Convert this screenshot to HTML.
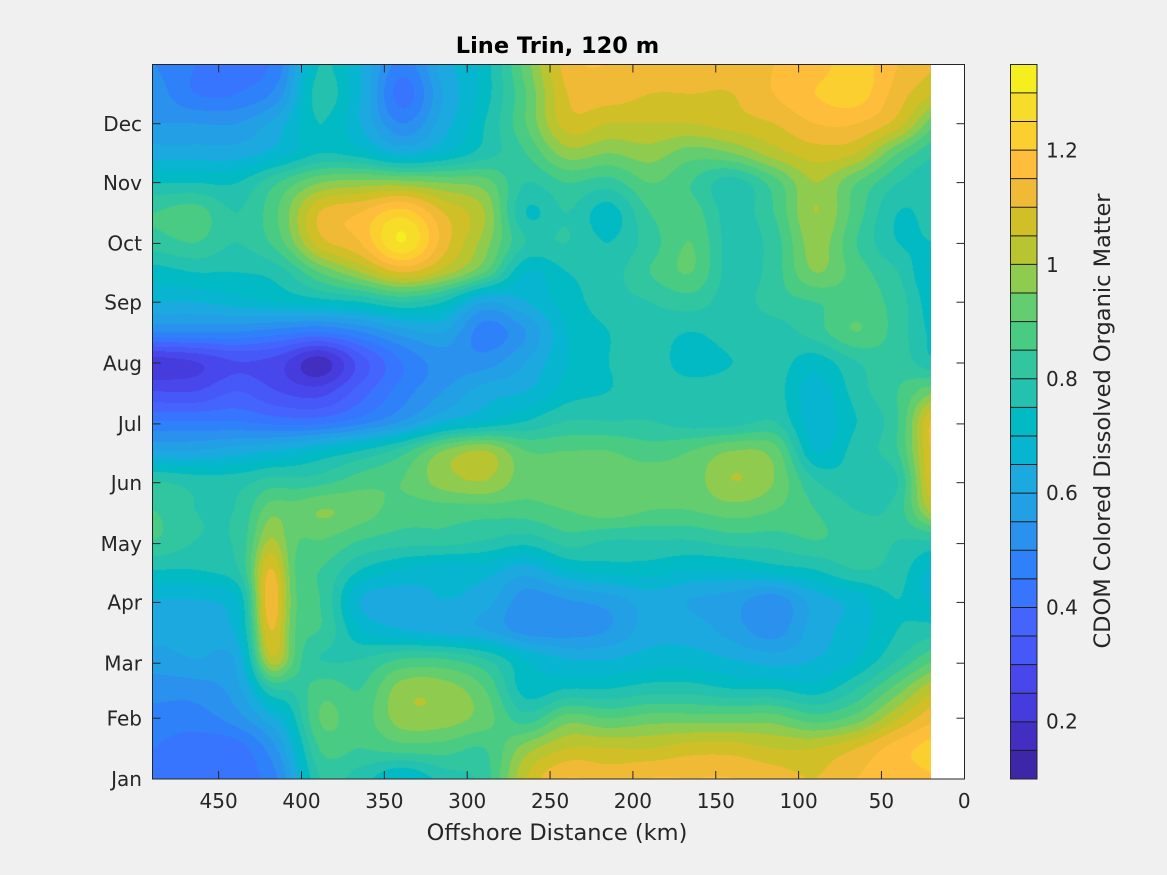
<!DOCTYPE html>
<html><head><meta charset="utf-8">
<style>
html,body{margin:0;padding:0;background:#f0f0f0;width:1167px;height:875px;overflow:hidden;}
#cv{position:absolute;left:152px;top:64px;}
#ov{position:absolute;left:0;top:0;}
text{font-family:"DejaVu Sans","Liberation Sans",sans-serif;}
</style></head>
<body>
<canvas id="cv" width="779" height="715"></canvas>
<svg id="ov" width="1167" height="875" xmlns="http://www.w3.org/2000/svg">
<rect x="931" y="64" width="34" height="715" fill="#ffffff"/>
<g id="cb"></g>
<rect x="152.5" y="64.5" width="812" height="714.5" fill="none" stroke="#262626" stroke-width="1"/>
<g id="ticks" stroke="#262626" stroke-width="1"></g>
<g fill="#262626" font-size="20" text-anchor="end">
<text x="142" y="786">Jan</text>
<text x="142" y="725.5">Feb</text>
<text x="142" y="670.5">Mar</text>
<text x="142" y="609.5">Apr</text>
<text x="142" y="551">May</text>
<text x="142" y="490">Jun</text>
<text x="142" y="431">Jul</text>
<text x="142" y="370.5">Aug</text>
<text x="142" y="309.5">Sep</text>
<text x="142" y="250.5">Oct</text>
<text x="142" y="190">Nov</text>
<text x="142" y="131">Dec</text>
</g>
<g fill="#262626" font-size="20" text-anchor="middle">
<text x="218.6" y="808">450</text>
<text x="301.5" y="808">400</text>
<text x="384.4" y="808">350</text>
<text x="467.2" y="808">300</text>
<text x="550.1" y="808">250</text>
<text x="632.9" y="808">200</text>
<text x="715.8" y="808">150</text>
<text x="798.6" y="808">100</text>
<text x="881.4" y="808">50</text>
<text x="964.3" y="808">0</text>
</g>
<g fill="#262626" font-size="20" text-anchor="start">
<text x="1046" y="157.5">1.2</text>
<text x="1046" y="271.8">1</text>
<text x="1046" y="386">0.8</text>
<text x="1046" y="500.2">0.6</text>
<text x="1046" y="614.5">0.4</text>
<text x="1046" y="728.5">0.2</text>
</g>
<text x="557" y="840" font-size="22.5" fill="#262626" text-anchor="middle">Offshore Distance (km)</text>
<text x="557.5" y="53" font-size="22.5" font-weight="bold" fill="#000" text-anchor="middle">Line Trin, 120 m</text>
<text transform="translate(1110,421) rotate(-90)" x="0" y="0" font-size="22.5" fill="#262626" text-anchor="middle">CDOM Colored Dissolved Organic Matter</text>
</svg>
<script>
(function(){
var C=[[62,38,168],[66,46,192],[70,60,222],[71,71,235],[71,88,248],[69,99,253],[56,117,254],[47,129,250],[43,145,239],[35,160,229],[28,169,223],[8,181,208],[2,186,195],[36,193,174],[49,198,159],[74,203,132],[100,205,111],[143,203,78],[185,196,49],[209,191,39],[240,186,54],[254,190,60],[252,207,48],[247,220,42],[246,239,32]];
var G=[
[8,7,6.5,7.5,13,11,7.5,10.5,12.5,16.5,20.5,21,20.5,20.5,20.5,21,21.5,22.5,21,20],
[8.5,7,7,8.5,13.5,11,6.5,10,12.5,16,20,20.5,20,20,20,21,22,22.5,20.5,19],
[9,9,9,10.5,13,11,8,10.5,13,16,19.5,19,19,19,19.5,20,21,21,19.5,16],
[10.5,10.5,10.5,11.5,13,12.5,11,12,13.5,15,17.5,17,17.5,16.5,17,18.5,19.5,19,16,14],
[13,13,13,15,17,17.5,17.5,17,16.5,14,15,14.5,16,15,13.5,15.5,18,16,14,13],
[15,15.5,14,16,20,21,22.5,20,18,13,14,12.5,15,15.5,13.5,15,18,15.5,13,13.5],
[14.5,15,14,15.5,19.5,21,24,20.5,17.5,14,14,13,14.5,16,13.5,14.5,17.5,15,13,13],
[12.5,13,13,13.5,16,18,20,18.5,16,12,13,13.5,15,16,13.5,14.5,17,15.5,14,11.5],
[11,11,11.5,12,12.5,13,14,13,10,11,12.5,13.5,14,14.5,13.5,14.5,15,15.5,14.5,12],
[8,8,8,7.5,7,8,9.5,10,7.5,9,12,13,13.5,13,13.5,13.5,14.5,16,14.5,12.5],
[2.5,3,4,3.5,1.5,4.5,7,8.5,8.5,10,12,13,13.5,12.5,13,13.5,12.5,14,14.5,13],
[4,4,5,4,3.5,5.5,7.5,9,10.5,11,12.5,13,13.5,13.5,13.5,13.5,11.5,13.5,15,17],
[7,7,7,6.5,6.5,7.5,9,11,12,13,14,14,14,13.5,13.5,14,11.5,13,15,21],
[10,10,10.5,11,12,13,14.5,17,18,16,16,16,15.5,16,17,16.5,12,13.5,15,21],
[14,13.5,13.5,14,14.5,15.5,16,17.5,18,16.5,17,16.5,16.5,16.5,18,17,14,13.5,14,21],
[15,14,14,15.5,17,16.5,15.5,15.5,15.5,15.5,16,16.5,16,16,16.5,16,15,14,14.5,19],
[15,14,14,15,16,15,14.5,14.5,14,13.5,14.5,14,14,14,14.5,14.5,15,14.5,14,14],
[13,13,13.5,14.5,15,13,12,11.5,11.5,10.5,12,12.5,12.5,12,12,12.5,13,14,13.5,11.5],
[11,11,11.5,14,15,11,10.5,11,10.5,8.5,9,9.5,10.5,10,9.5,8.5,10.5,11.5,13,11.5],
[10.5,10.5,11,14,15,12,11,10.5,10,8.5,8.5,9,10.5,10.5,9.5,8.5,10.5,11.5,13,13.5],
[9.5,10,10,15,14,14,15,15,14,12,11,11,11.5,11.5,11,10.5,11,12,14,16],
[8.5,8.5,9.5,12.5,15.5,15,17.5,17.5,16,12.5,13,13,13.5,13.5,13,13,12.5,14,16.5,19],
[7.5,7.5,8.5,10.5,16,15.5,17.5,17.5,16.5,14.5,16.5,16,16.5,16.5,16.5,16.5,15.5,16.5,19,21],
[7,6.5,6.5,9,15,15,15.5,15.5,15,17.5,19,19,19,19.5,19.5,19,19,20,21.5,22.5],
[7,6.5,6.5,8,14,13.5,12,13.5,14.5,19,21,20.5,21,21,21,20.5,20,21,21.5,22]
];
var B=[[270,605,14,52,7.2]];
var NR=G.length,NC=G[0].length;
function cr(p0,p1,p2,p3,t){return p1+0.5*t*(p2-p0+t*(2*p0-5*p1+4*p2-p3+t*(3*(p1-p2)+p3-p0)));}
function gv(r,c){if(r<0)r=0;if(r>NR-1)r=NR-1;if(c<0)c=0;if(c>NC-1)c=NC-1;return G[r][c];}
var cv=document.getElementById('cv'),ctx=cv.getContext('2d');
var W=779,H=715,img=ctx.createImageData(W,H),d=img.data;
var rowv=new Array(NC);
function rv(k){if(k<0)k=0;if(k>NC-1)k=NC-1;return rowv[k];}
for(var py=0;py<H;py++){
  var Y=64+py+0.5,r=(Y-64)/29.75,ri=Math.floor(r),rt=r-ri;
  for(var c=0;c<NC;c++){rowv[c]=cr(gv(ri-1,c),gv(ri,c),gv(ri+1,c),gv(ri+2,c),rt);}
  for(var px=0;px<W;px++){
    var X=152+px+0.5,cc=(X-154)/41.33,ci=Math.floor(cc),ct=cc-ci;
    var v=cr(rv(ci-1),rv(ci),rv(ci+1),rv(ci+2),ct);
    for(var b=0;b<B.length;b++){var q=B[b];var dx=(X-q[0])/q[2],dy=(Y-q[1])/q[3];var e=0.5*(dx*dx+dy*dy);if(e<8)v+=q[4]*Math.exp(-e);}
    var k=Math.floor(v);if(k<0)k=0;if(k>24)k=24;
    var col=C[k],o=(py*W+px)*4;
    d[o]=col[0];d[o+1]=col[1];d[o+2]=col[2];d[o+3]=255;
  }
}
ctx.putImageData(img,0,0);
var NS='http://www.w3.org/2000/svg';
function el(n,a,p){var e=document.createElementNS(NS,n);for(var k in a)e.setAttribute(k,a[k]);p.appendChild(e);return e;}
var cb=document.getElementById('cb');
var cTop=64.3,cBot=779,bh=(cBot-cTop)/25;
for(var k=0;k<25;k++){
  var y1=cBot-(k+1)*bh;
  el('rect',{x:1010,y:y1,width:27,height:bh+0.5,fill:'rgb('+C[k].join(',')+')'},cb);
}
for(var k=1;k<25;k++){
  var yy=cBot-k*bh;
  el('line',{x1:1010,x2:1037,y1:yy,y2:yy,stroke:'#1a1a1a','stroke-width':1},cb);
}
el('rect',{x:1010.5,y:64.5,width:26.5,height:714.5,fill:'none',stroke:'#262626','stroke-width':1},cb);
var tg=document.getElementById('ticks');
var ys=[718.2,663.2,602.4,543.6,482.7,423.9,363,302.2,243.4,182.6,123.7];
ys.forEach(function(y){
  el('line',{x1:152.5,x2:160.5,y1:y,y2:y},tg);
  el('line',{x1:964.5,x2:956.5,y1:y,y2:y},tg);
});
[450,400,350,300,250,200,150,100,50].forEach(function(dd){
  var x=964.3-1.657*dd;
  el('line',{x1:x,x2:x,y1:779,y2:771},tg);
  el('line',{x1:x,x2:x,y1:64.5,y2:72.5},tg);
});
})();
</script>
</body></html>
